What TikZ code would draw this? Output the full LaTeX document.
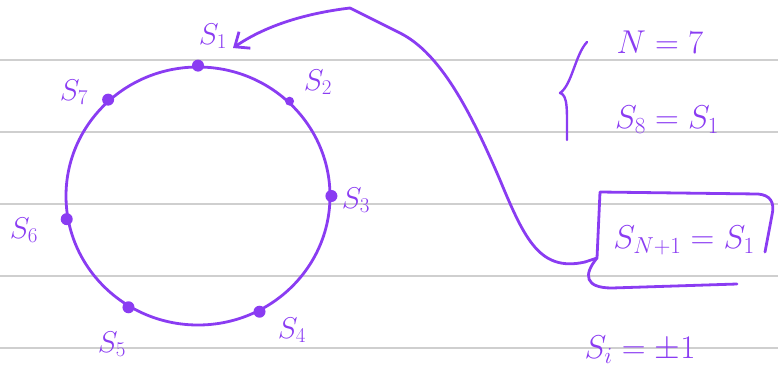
\RequirePackage{fix-cm}
\documentclass[tikz,border=0pt]{standalone}
\usetikzlibrary{arrows.meta,shapes.geometric}
\definecolor{pen}{HTML}{8A3CF2}
\definecolor{rule}{HTML}{CFCFCF}
\tikzset{
  ruled/.style={draw=rule,line width=2pt},
  ink/.style={draw=pen,line width=2.8pt,line cap=round,line join=round},
  dot/.style={circle,fill=pen,inner sep=0pt,minimum size=12pt},
  lab/.style={text=pen,font=\fontsize{30}{34}\selectfont,inner sep=0pt},
  eq/.style={text=pen,font=\fontsize{33}{38}\selectfont,inner sep=0pt}
}
\begin{document}
\begin{tikzpicture}[x=1pt,y=-1pt]
\useasboundingbox (0,0) rectangle (778,370);
% ruled lines
\foreach \yy in {60,132,204,276,348} \draw[ruled] (0,\yy) -- (778,\yy);
% ring
\node[ink,ellipse,minimum width=264pt,minimum height=258pt,inner sep=0pt] (ring) at (198,196) {};
\node[dot] (d1) at (ring.90) {};
\node[dot,minimum size=9pt] (d2) at (ring.46) {};
\node[dot] (d3) at (ring.0) {};
\node[dot] (d4) at (ring.-62) {};
\node[dot] (d5) at (ring.-122) {};
\node[dot] (d6) at (ring.190) {};
\node[dot] (d7) at (ring.133) {};
% labels
\node[lab] (l1) at (213,36) {$S_1$};
\node[lab] (l2) at (318,82) {$S_2$};
\node[lab] (l3) at (356,200) {$S_3$};
\node[lab] (l4) at (292,330) {$S_4$};
\node[lab] (l5) at (112,344) {$S_5$};
\node[lab] (l6) at (24,230) {$S_6$};
\node[lab] (l7) at (74,92) {$S_7$};
% arrow curve
\coordinate (peak) at (350,8);
\coordinate (tip) at (233,48);
\coordinate (bend) at (400,33);
\coordinate (join) at (585,262);
\draw[ink,-{Straight Barb[length=12pt,width=20pt,line width=2.8pt]}] (peak) .. controls (300,14) and (262,28) .. (tip);
\draw[ink] (peak) -- (bend) .. controls (440,53) and (470,110) .. (500,180)
  .. controls (525,240) and (540,272) .. (join);
% right side text
\node[eq] (n7) at (660,42) {$N=7$};
\node[eq] (s8) at (667,120) {$S_8=S_1$};
\node[eq] (sn) at (684,240) {$S_{N+1}=S_1$};
\node[eq] (si) at (640,350) {$S_i=\pm1$};
% brace
\draw[ink,line width=2.4pt] (587,42) .. controls (575,55) and (572,85) .. (560,93)
  .. controls (568,95) and (567,110) .. (567,140);
% box around S_{N+1}=S_1
\draw[ink] (join) -- (597,258) -- (600,192) -- (758,194)
  .. controls (770,195) and (775,202) .. (772,215) -- (765,252);
\draw[ink] (597,258) .. controls (583,275) and (585,288) .. (612,288) -- (737,284);
\end{tikzpicture}
\end{document}
